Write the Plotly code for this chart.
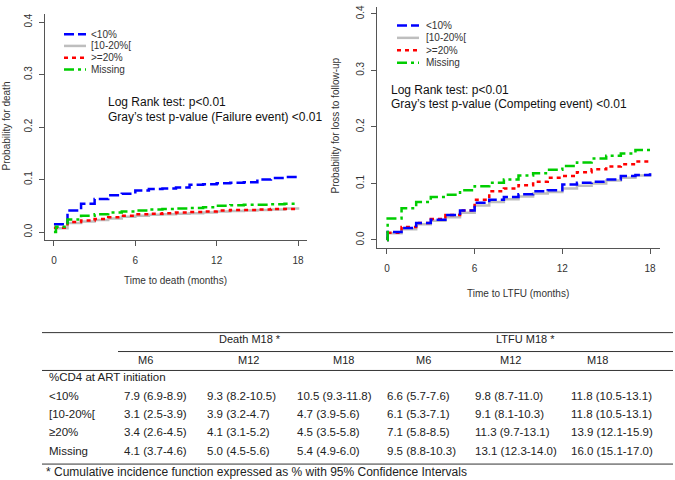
import plotly.graph_objects as go

W, H = 675, 480

# ---- curves: death (left) ----
t_death = [0, 1, 2, 3, 4, 5, 6, 7, 8, 9, 10, 11, 12, 13, 14, 15, 16, 17, 18]
death_lt10 = [0.015, 0.041, 0.054, 0.063, 0.070, 0.073, 0.079, 0.082, 0.083, 0.085, 0.090, 0.091, 0.093, 0.094, 0.095, 0.100, 0.103, 0.105, 0.105]
death_10_20 = [0.007, 0.017, 0.020, 0.023, 0.026, 0.029, 0.031, 0.033, 0.034, 0.035, 0.036, 0.037, 0.039, 0.040, 0.041, 0.042, 0.043, 0.045, 0.047]
death_ge20 = [0.008, 0.019, 0.022, 0.025, 0.028, 0.031, 0.034, 0.035, 0.036, 0.037, 0.038, 0.039, 0.041, 0.042, 0.042, 0.043, 0.044, 0.044, 0.045]
t_death_miss = [0, 0.15, 1, 2, 3, 4, 5, 6, 7, 8, 9, 10, 11, 12, 13, 14, 15, 16, 17, 18]
death_missing = [0.0, 0.010, 0.024, 0.031, 0.034, 0.037, 0.039, 0.041, 0.043, 0.044, 0.045, 0.046, 0.047, 0.050, 0.051, 0.052, 0.052, 0.053, 0.054, 0.054]

# ---- curves: LTFU (right) ----
t_ltfu = [0, 0.05, 1, 2, 3, 4, 5, 6, 7, 8, 9, 10, 11, 12, 13, 14, 15, 16, 17, 18]
ltfu_lt10 = [0.0, 0.014, 0.021, 0.030, 0.036, 0.044, 0.052, 0.066, 0.071, 0.076, 0.081, 0.086, 0.088, 0.098, 0.101, 0.103, 0.107, 0.113, 0.115, 0.118]
ltfu_10_20 = [0.0, 0.012, 0.019, 0.028, 0.034, 0.040, 0.048, 0.061, 0.067, 0.072, 0.077, 0.082, 0.085, 0.091, 0.096, 0.100, 0.105, 0.110, 0.114, 0.118]
ltfu_ge20 = [0.0, 0.013, 0.023, 0.030, 0.037, 0.044, 0.052, 0.071, 0.086, 0.091, 0.097, 0.103, 0.110, 0.113, 0.120, 0.125, 0.130, 0.134, 0.139, 0.140]
ltfu_missing = [0.0, 0.038, 0.056, 0.067, 0.076, 0.080, 0.088, 0.095, 0.101, 0.107, 0.114, 0.118, 0.124, 0.131, 0.137, 0.144, 0.149, 0.153, 0.159, 0.160]

groups = ["<10%", "[10-20%[", ">=20%", "Missing"]
colors = ["#0000FF", "#BEBEBE", "#FF0000", "#00CD00"]
dashes = ["10px,4px", "solid", "4px,4px", "10px,4px,3px,4px"]

# ---- table ----
tbl_rows = ["<10%", "[10-20%[", "≥20%", "Missing"]
tbl_cols = ["M6", "M12", "M18", "M6", "M12", "M18"]
tbl_vals = [
    ["7.9 (6.9-8.9)", "9.3 (8.2-10.5)", "10.5 (9.3-11.8)", "6.6 (5.7-7.6)", "9.8 (8.7-11.0)", "11.8 (10.5-13.1)"],
    ["3.1 (2.5-3.9)", "3.9 (3.2-4.7)", "4.7 (3.9-5.6)", "6.1 (5.3-7.1)", "9.1 (8.1-10.3)", "11.8 (10.5-13.1)"],
    ["3.4 (2.6-4.5)", "4.1 (3.1-5.2)", "4.5 (3.5-5.8)", "7.1 (5.8-8.5)", "11.3 (9.7-13.1)", "13.9 (12.1-15.9)"],
    ["4.1 (3.7-4.6)", "5.0 (4.5-5.6)", "5.4 (4.9-6.0)", "9.5 (8.8-10.3)", "13.1 (12.3-14.0)", "16.0 (15.1-17.0)"],
]


def px(x):
    return x / W


def py(y):
    return 1 - y / H


FONT = "Liberation Sans, Arial, sans-serif"
TXT = "#222222"

fig = go.Figure()

left = [(t_death, death_lt10), (t_death, death_10_20), (t_death, death_ge20), (t_death_miss, death_missing)]
right = [(t_ltfu, ltfu_lt10), (t_ltfu, ltfu_10_20), (t_ltfu, ltfu_ge20), (t_ltfu, ltfu_missing)]

# gray first so it sits underneath
order = [1, 2, 0, 3]
for i in order:
    x, y = left[i]
    fig.add_trace(go.Scatter(x=x, y=y, mode="lines", line_shape="hv", name=groups[i],
                             line=dict(color=colors[i], width=2.5, dash=dashes[i]),
                             xaxis="x", yaxis="y", showlegend=False))
for i in order:
    x, y = right[i]
    fig.add_trace(go.Scatter(x=x, y=y, mode="lines", line_shape="hv", name=groups[i],
                             line=dict(color=colors[i], width=2.5, dash=dashes[i]),
                             xaxis="x2", yaxis="y2", showlegend=False))

ax_common = dict(showline=True, linecolor="#555555", linewidth=1, ticks="outside", ticklen=5,
                 tickcolor="#555555", showgrid=False, zeroline=False,
                 tickfont=dict(family=FONT, size=10, color="#333333"))

fig.update_layout(
    width=W, height=H,
    margin=dict(l=0, r=0, t=0, b=0),
    plot_bgcolor="white", paper_bgcolor="white",
    font=dict(family=FONT, color=TXT),
    xaxis=dict(domain=[px(45), px(307)], range=[-0.66, 18.66], tickvals=[0, 6, 12, 18],
               anchor="y", ticklabelstandoff=6, **ax_common),
    yaxis=dict(domain=[py(239), py(12)], range=[-0.0152, 0.4156], tickvals=[0, 0.1, 0.2, 0.3, 0.4],
               tickformat=".1f", tickangle=-90, anchor="x", ticklabelstandoff=3, **ax_common),
    xaxis2=dict(domain=[px(377), px(660)], range=[-0.68, 18.68], tickvals=[0, 6, 12, 18],
                anchor="y2", ticklabelstandoff=6, **ax_common),
    yaxis2=dict(domain=[py(247), py(5)], range=[-0.0141, 0.412], tickvals=[0, 0.1, 0.2, 0.3, 0.4],
                tickformat=".1f", tickangle=-90, anchor="x2", ticklabelstandoff=3, **ax_common),
)

ann = []
shapes = []


def text(x, y, s, size=11, xanchor="left", color=TXT, angle=0):
    ann.append(dict(x=px(x), y=py(y), xref="paper", yref="paper", text=s, showarrow=False,
                    xanchor=xanchor, yanchor="middle", textangle=angle,
                    font=dict(family=FONT, size=size, color=color)))


def hline(x0, x1, y, color="#333333", width=1, dash="solid"):
    shapes.append(dict(type="line", xref="paper", yref="paper", x0=px(x0), x1=px(x1),
                       y0=py(y), y1=py(y), line=dict(color=color, width=width, dash=dash)))


# axis titles
text(176, 280, "Time to death (months)", size=10, xanchor="center", color="#333333")
text(518, 293, "Time to LTFU (months)", size=10, xanchor="center", color="#333333")
text(6, 125, "Probability for death", size=10, xanchor="center", color="#333333", angle=-90)
text(335, 124, "Probability for loss to follow-up", size=10, xanchor="center", color="#333333", angle=-90)

# test annotations
text(106, 100, "Log Rank test: p<0.01", size=12, color="#111111")
text(106, 115, "Gray’s test p-value (Failure event) <0.01", size=12, color="#111111")
text(389, 88, "Log Rank test: p<0.01", size=12, color="#111111")
text(389, 102, "Gray’s test p-value (Competing event) <0.01", size=12, color="#111111")

# legends
for i, g in enumerate(groups):
    yl = 32.3 + i * 11.8
    hline(64, 86, yl, color=colors[i], width=2.5, dash=dashes[i])
    text(89, yl, g, size=10, color="#333333")
    yr = 23.5 + i * 12.5
    hline(397, 419, yr, color=colors[i], width=2.5, dash=dashes[i])
    text(424, yr, g, size=10, color="#333333")

# table
hline(42, 673, 332)
hline(118, 673, 351)
hline(42, 673, 370)
hline(42, 673, 464)
text(250, 338, "Death M18 *", size=11, xanchor="center")
text(525, 338, "LTFU M18 *", size=11, xanchor="center")
hdr_x = [145, 248, 343, 423, 510, 597]
val_x = [122, 205, 295, 385, 473, 569]
for cx, c in zip(hdr_x, tbl_cols):
    text(cx, 359, c, size=11, xanchor="center")
text(47, 377, "%CD4 at ART initiation", size=11.5)
row_y = [396, 414, 432, 451]
for ry, r, vals in zip(row_y, tbl_rows, tbl_vals):
    text(47, ry, r, size=11.5)
    for vx, v in zip(val_x, vals):
        text(vx, ry, v, size=11.5)
text(44, 472, "* Cumulative incidence function expressed as % with 95% Confidence Intervals", size=12)

fig.update_layout(annotations=ann, shapes=shapes)

# page body has a default 8px margin; remove it so the figure fills the window
fig.write_html("out.html", config={"displayModeBar": False},
               post_script="document.body.style.margin='0';")
